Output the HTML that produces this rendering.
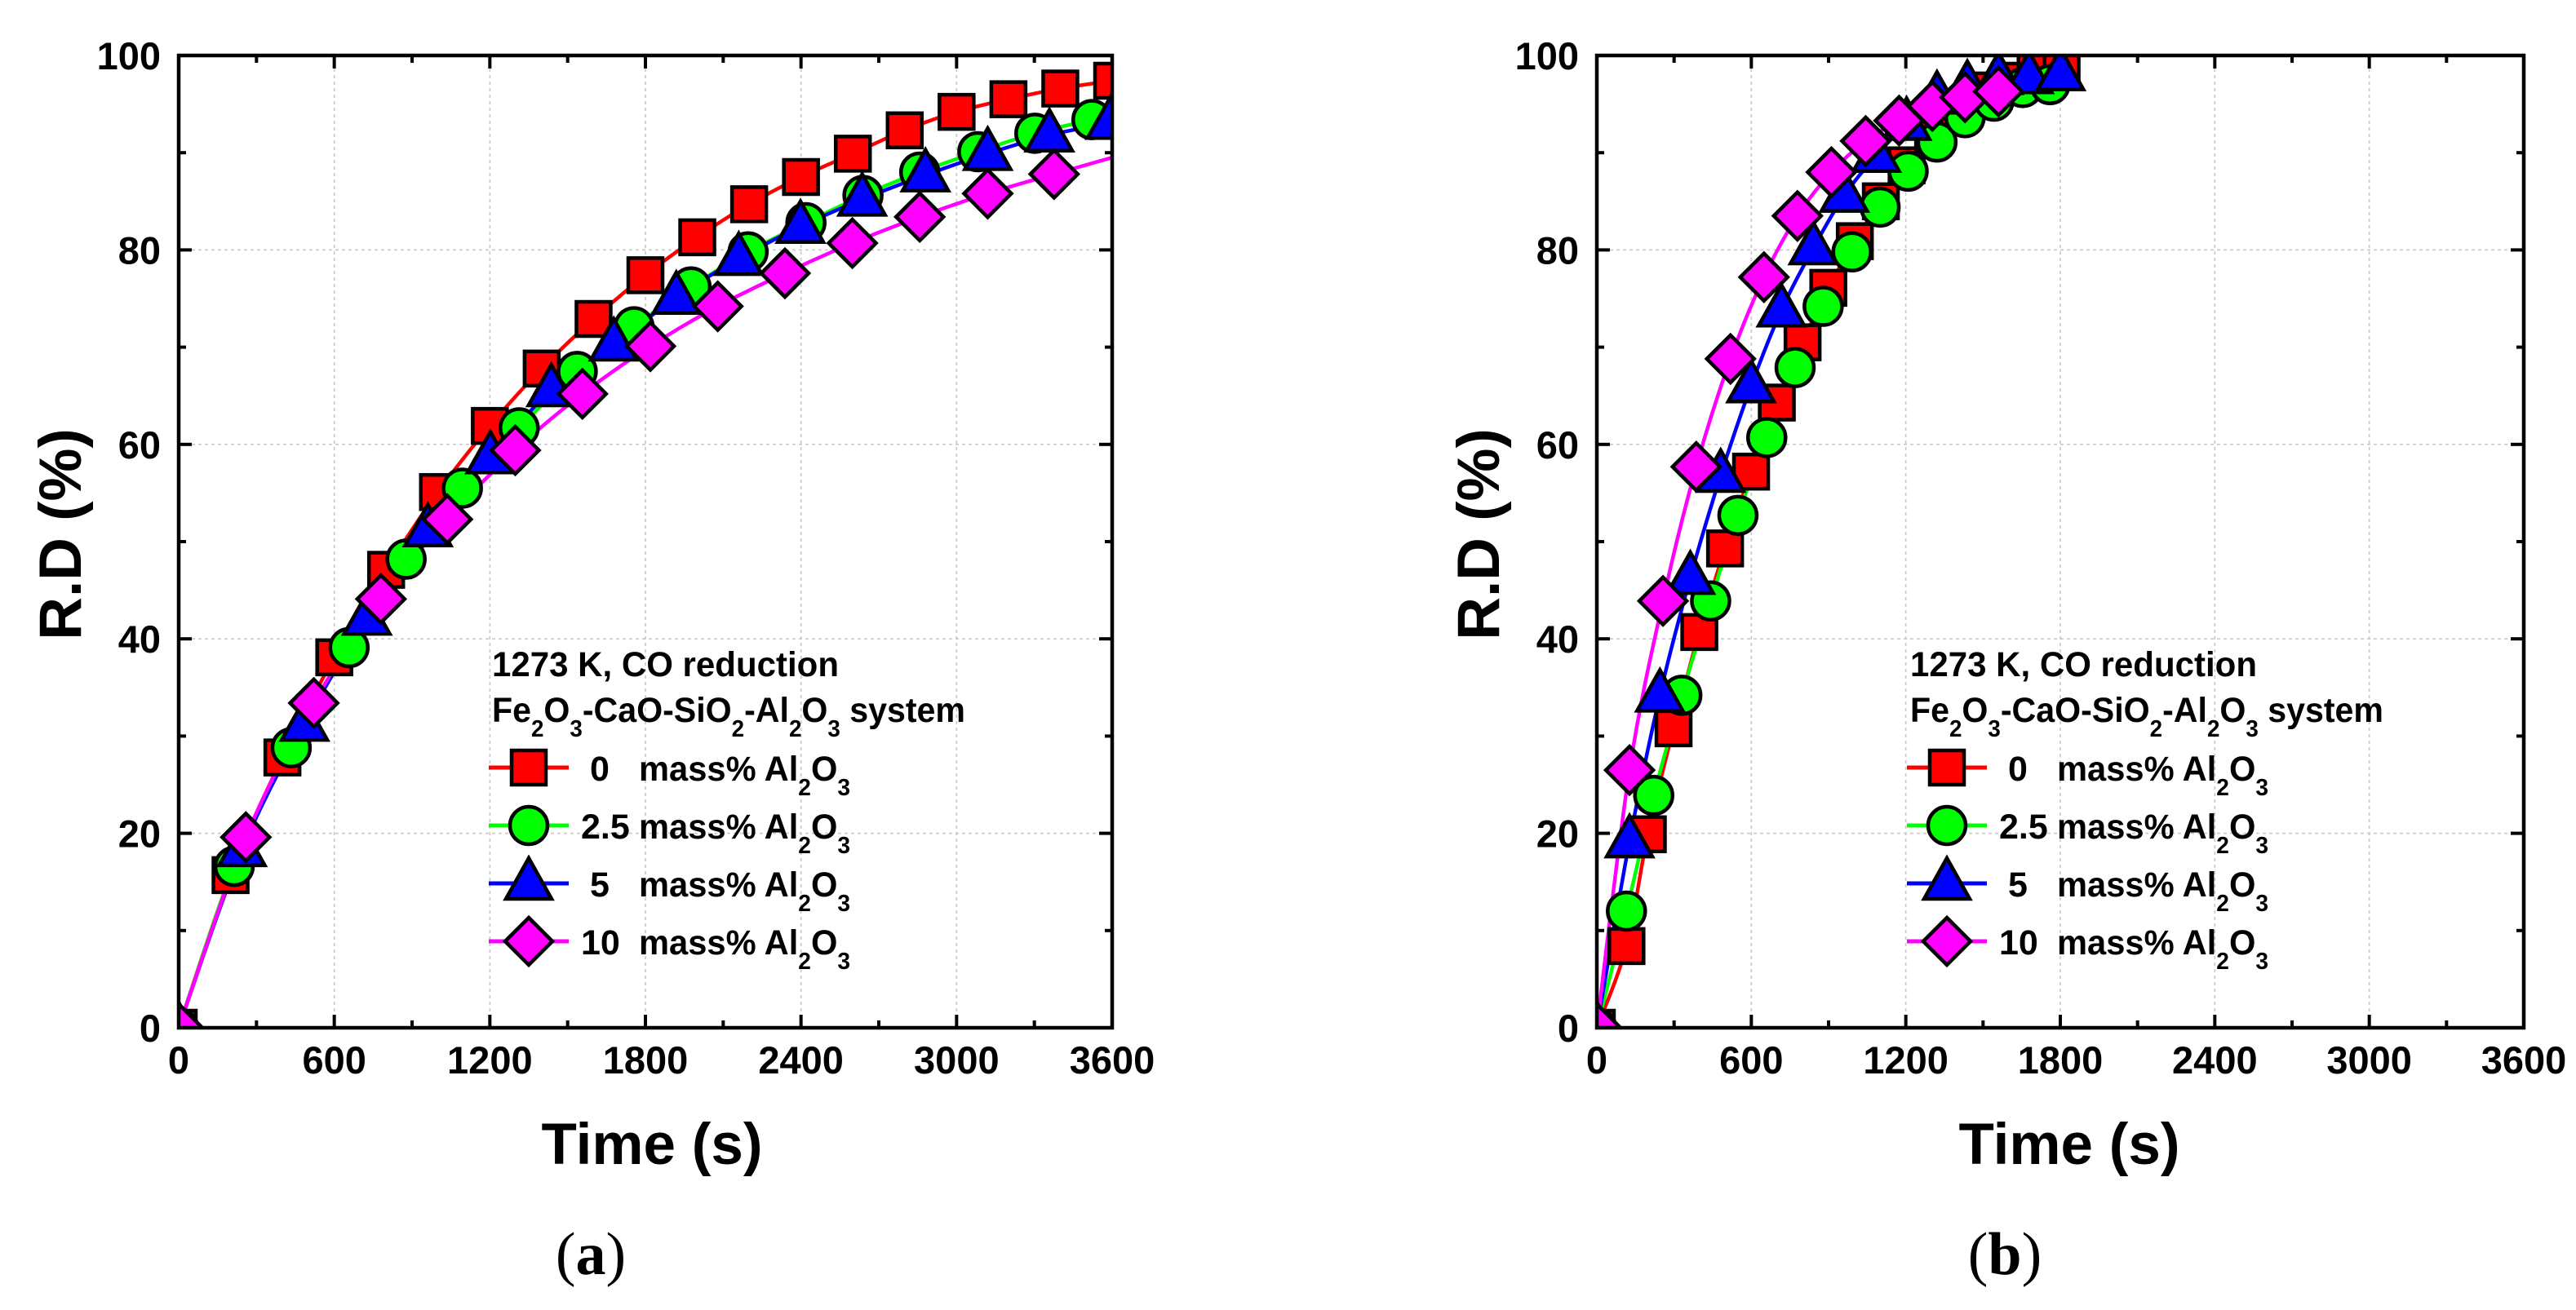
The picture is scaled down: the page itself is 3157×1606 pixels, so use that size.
<!DOCTYPE html>
<html><head><meta charset="utf-8"><style>
html,body{margin:0;padding:0;background:#fff;}
svg{display:block;}
text{font-family:"Liberation Sans",Arial,sans-serif;font-weight:bold;fill:#000;}
</style></head><body>
<svg id="fig" width="3157" height="1606" viewBox="0 0 3157 1606" xmlns="http://www.w3.org/2000/svg"></svg>
<script>
// ---- data (panel a) ----
const a_t0 = [0,200,400,600,800,1000,1200,1400,1600,1800,2000,2200,2400,2600,2800,3000,3200,3400,3600];
const a_v0 = [0,15.7,27.8,38.1,47.1,55.1,61.9,67.8,72.9,77.4,81.3,84.7,87.5,89.9,92.3,94.2,95.5,96.6,97.4];
const a_t25 = [0,214,434,657,877,1094,1313,1537,1756,1976,2196,2419,2639,2858,3082,3302,3522];
const a_v25 = [0,16.6,28.8,39.1,48.2,55.5,61.7,67.5,72.1,76.2,79.8,82.8,85.6,88.0,90.1,92.0,93.4];
const a_t5 = [0,244,485,726,961,1202,1437,1678,1919,2160,2398,2636,2880,3120,3358,3593];
const a_v5 = [0,18.3,31.2,42.1,51.2,58.7,65.6,70.3,75.1,79.1,82.4,85.2,87.7,89.9,91.8,93.1];
const a_t10 = [0,259,521,780,1036,1298,1557,1819,2079,2338,2598,2858,3120,3376];
const a_v10 = [0,19.6,33.4,44.1,52.3,59.4,65.2,70.1,74.2,77.6,80.7,83.4,85.8,87.8];
const a_endT = [3600,3600,3600,3600];
const a_endV = [97.6,94.0,93.2,89.5];
// ---- data (panel b) ----
const b_t0 = [0,115,198,298,398,498,599,699,799,899,1002,1103,1203,1306,1403,1504,1604,1704,1805];
const b_v0 = [0,8.4,19.9,30.8,40.7,49.3,57.2,64.3,70.5,76.1,80.9,85.0,88.7,91.8,94.6,96.4,97.4,98.5,98.9];
const b_t25 = [0,115,221,330,442,548,660,770,879,991,1100,1209,1321,1430,1542,1654,1760];
const b_v25 = [0,12.0,23.9,34.2,43.9,52.7,60.7,67.9,74.2,79.8,84.4,88.1,91.1,93.6,95.3,96.7,97.0];
const b_t5 = [0,127,245,363,481,599,717,841,961,1085,1203,1321,1439,1560,1678,1801];
const b_v5 = [0,19.2,34.2,46.3,56.8,66.0,73.8,80.2,85.6,89.7,93.0,95.7,96.8,97.7,97.8,98.1];
const b_t10 = [0,127,257,386,519,649,779,911,1044,1174,1303,1430,1560];
const b_v10 = [0,26.5,43.9,57.7,68.8,77.2,83.5,88.0,91.2,93.3,94.8,95.7,96.3];
const xTicks = [0,600,1200,1800,2400,3000,3600];
const yTicks = [0,20,40,60,80,100];
const legendLabels = ["0","2.5","5","10"];
const seriesColors = ["#ff0000","#00ff00","#0000ff","#ff00ff"];
const seriesShapes = ["square","circle","triangle","diamond"];

const NS="http://www.w3.org/2000/svg";
const svg=document.getElementById('fig');
function mk(tag,attrs,parent){const e=document.createElementNS(NS,tag);for(const k in attrs)e.setAttribute(k,attrs[k]);(parent||svg).appendChild(e);return e;}

function smoothPath(pts){
  if(pts.length<2)return "";
  let d="M"+pts[0][0]+","+pts[0][1];
  for(let i=0;i<pts.length-1;i++){
    const p0=pts[i-1]||pts[i],p1=pts[i],p2=pts[i+1],p3=pts[i+2]||p2;
    const c1=[p1[0]+(p2[0]-p0[0])/6,p1[1]+(p2[1]-p0[1])/6];
    const c2=[p2[0]-(p3[0]-p1[0])/6,p2[1]-(p3[1]-p1[1])/6];
    d+=" C"+c1[0]+","+c1[1]+" "+c2[0]+","+c2[1]+" "+p2[0]+","+p2[1];
  }
  return d;
}
function marker(g,shape,cx,cy,color){
  const st={fill:color,stroke:"#000","stroke-width":4.5};
  let e;
  if(shape==="square"){e=mk('rect',Object.assign({x:cx-21,y:cy-21,width:42,height:42},st),g);}
  else if(shape==="circle"){e=mk('circle',Object.assign({cx:cx,cy:cy,r:23},st),g);}
  else if(shape==="triangle"){e=mk('polygon',Object.assign({points:(cx)+","+(cy-31)+" "+(cx-28)+","+(cy+19)+" "+(cx+28)+","+(cy+19)},st),g);}
  else {e=mk('polygon',Object.assign({points:cx+","+(cy-29)+" "+(cx+29)+","+cy+" "+cx+","+(cy+29)+" "+(cx-29)+","+cy},st),g);}
  return e;
}

function panel(id,L,R,T,B,series,ends,yTitleX,xTitleX,capX,cap){
  const X=t=>L+(t/3600)*(R-L);
  const Y=v=>B-(v/100)*(B-T);
  const g=mk('g',{});
  
  
  const clip=mk('clipPath',{id:'clip'+id},g);
  mk('rect',{x:L,y:T,width:R-L,height:B-T},clip);
  const grid=mk('g',{stroke:"#c8c8c8","stroke-width":1.6,"stroke-dasharray":"4,4"},g);
  
  
  xTicks.forEach(t=>{if(t>0&&t<3600)mk('line',{x1:X(t),x2:X(t),y1:T,y2:B},grid);});
  yTicks.forEach(v=>{if(v>0&&v<100)mk('line',{x1:L,x2:R,y1:Y(v),y2:Y(v)},grid);});
  const tk=mk('g',{stroke:"#000","stroke-width":4},g);
  for(let t=0;t<=3600;t+=300){const len=(t%600===0)?16:9;
    mk('line',{x1:X(t),x2:X(t),y1:B,y2:B-len},tk);mk('line',{x1:X(t),x2:X(t),y1:T,y2:T+len},tk);}
  for(let v=0;v<=100;v+=10){const len=(v%20===0)?16:9;
    mk('line',{x1:L,x2:L+len,y1:Y(v),y2:Y(v)},tk);mk('line',{x1:R,x2:R-len,y1:Y(v),y2:Y(v)},tk);}
  xTicks.forEach(t=>{const e=mk('text',{x:X(t),y:1316,"text-anchor":"middle","font-size":47},g);e.textContent=t;
    });
  yTicks.forEach(v=>{const e=mk('text',{x:L-22,y:Y(v)+17,"text-anchor":"end","font-size":47},g);e.textContent=v;
    });
  const sg=mk('g',{"clip-path":"url(#clip"+id+")"},g);
  series.forEach((s,i)=>{
    const pts=s[0].map((t,j)=>[X(t),Y(s[1][j])]);
    const lp=pts.slice();
    if(ends&&ends[0][i]>s[0][s[0].length-1])lp.push([X(ends[0][i]),Y(ends[1][i])]);
    const p=mk('path',{d:smoothPath(lp),fill:"none",stroke:seriesColors[i],"stroke-width":4.5},sg);
    
    
  });
  series.forEach((s,i)=>{
    s[0].forEach((t,j)=>{const m=marker(sg,seriesShapes[i],X(t),Y(s[1][j]),seriesColors[i]);
      
      });
  });
  const fr=mk('rect',{x:L,y:T,width:R-L,height:B-T,fill:"none",stroke:"#000","stroke-width":4.5},g);
  
  
  const yt=mk('text',{x:0,y:0,"font-size":73,"text-anchor":"middle",transform:"translate("+(yTitleX)+",655) rotate(-90)"},g);
  yt.textContent="R.D (%)";
  
  const xt=mk('text',{x:xTitleX,y:1427,"font-size":71,"text-anchor":"middle"},g);
  xt.textContent="Time (s)";
  
  const cp=mk('text',{x:capX,y:1562,"font-size":74,"text-anchor":"middle",style:"font-family:'Liberation Serif',serif;font-weight:normal"},g);
  cp.innerHTML='(<tspan font-weight="bold">'+cap+'</tspan>)';
  
  const lx=L+384;
  const lg=mk('g',{},g);
  
  const l1=mk('text',{x:lx,y:829,"font-size":43,textLength:425,lengthAdjust:"spacingAndGlyphs"},lg);l1.textContent="1273 K, CO reduction";
  
  const l2=mk('text',{x:lx,y:885,"font-size":43,textLength:580,lengthAdjust:"spacingAndGlyphs"},lg);
  l2.innerHTML='Fe<tspan font-size="29" dy="18">2</tspan><tspan dy="-18">O</tspan><tspan font-size="29" dy="18">3</tspan><tspan dy="-18">-CaO-SiO</tspan><tspan font-size="29" dy="18">2</tspan><tspan dy="-18">-Al</tspan><tspan font-size="29" dy="18">2</tspan><tspan dy="-18">O</tspan><tspan font-size="29" dy="18">3</tspan><tspan dy="-18"> system</tspan>';
  
  const rowY=[941,1012,1083,1154];
  legendLabels.forEach((lab,i)=>{
    const eg=mk('g',{},lg);
    
    mk('line',{x1:lx-4,x2:lx+94,y1:rowY[i],y2:rowY[i],stroke:seriesColors[i],"stroke-width":5},eg);
    marker(eg,seriesShapes[i],lx+45,rowY[i],seriesColors[i]);
    const nt=mk('text',{x:lx+(lab.length===1?120:109),y:rowY[i]+16,"font-size":43},eg);nt.textContent=lab;
    const mt=mk('text',{x:lx+180,y:rowY[i]+16,"font-size":43,textLength:259,lengthAdjust:"spacingAndGlyphs"},eg);
    mt.innerHTML='mass% Al<tspan font-size="29" dy="18">2</tspan><tspan dy="-18">O</tspan><tspan font-size="29" dy="18">3</tspan>';
  });
}
panel('a',219,1363,68,1260,[[a_t0,a_v0],[a_t25,a_v25],[a_t5,a_v5],[a_t10,a_v10]],[a_endT,a_endV],99,799,724,'a');
panel('b',1957,3093,68,1260,[[b_t0,b_v0],[b_t25,b_v25],[b_t5,b_v5],[b_t10,b_v10]],null,1837,2536,2457,'b');
</script>
</body></html>
